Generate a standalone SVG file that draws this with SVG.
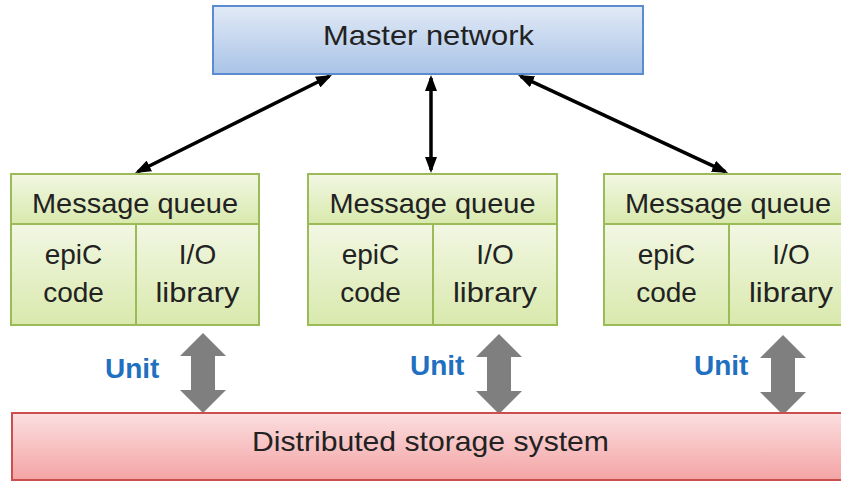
<svg xmlns="http://www.w3.org/2000/svg" width="841" height="481" viewBox="0 0 841 481">
  <defs>
    <linearGradient id="gBlue" x1="0" y1="0" x2="0" y2="1">
      <stop offset="0" stop-color="#e2eaf6"/>
      <stop offset="1" stop-color="#a9c3e7"/>
    </linearGradient>
    <linearGradient id="gGreen" x1="0" y1="0" x2="0" y2="1">
      <stop offset="0" stop-color="#f2f7e3"/>
      <stop offset="1" stop-color="#d9e9ad"/>
    </linearGradient>
    <linearGradient id="gRed" x1="0" y1="0" x2="0" y2="1">
      <stop offset="0" stop-color="#fbdfe0"/>
      <stop offset="1" stop-color="#f4a4a5"/>
    </linearGradient>
    <marker id="head" viewBox="0 0 16 12" markerWidth="16" markerHeight="12" refX="13" refY="6" orient="auto-start-reverse" markerUnits="userSpaceOnUse">
      <path d="M0,0 L16,6 L0,12 z" fill="#000"/>
    </marker>
    <!-- gray double-headed block arrow, 80 tall, centred on x=0 -->
    <path id="blockArrow" d="M0,0 L23,23 L12,23 L12,57 L23,57 L0,80 L-23,57 L-12,57 L-12,23 L-23,23 z"/>
  </defs>
  <style>
    .txt { font-family: "Liberation Sans", Arial, sans-serif; font-size: 28px; fill: #222; text-anchor: middle; }
    .unit { font-family: "Liberation Sans", Arial, sans-serif; font-size: 28px; font-weight: bold; fill: #1f70c1; text-anchor: start; }
    .blue { fill: url(#gBlue); stroke: #5b8bd0; stroke-width: 2; }
    .green { fill: url(#gGreen); stroke: #9bbb59; stroke-width: 2; }
    .red { fill: url(#gRed); stroke: #c9504d; stroke-width: 2; }
    .conn { stroke: #000; stroke-width: 3.5; fill: none; marker-start: url(#head); marker-end: url(#head); }
    .block { fill: #7f7f7f; }
  </style>

  <rect width="841" height="481" fill="#fff"/>

  <g id="master">
    <rect class="blue" x="213" y="6" width="430" height="68"/>
    <text class="txt" x="428.5" y="45" textLength="211" lengthAdjust="spacingAndGlyphs">Master network</text>
  </g>

  <g id="connectors">
    <line class="conn" x1="329.3" y1="76.3" x2="137.7" y2="171.7"/>
    <line class="conn" x1="431" y1="78" x2="431" y2="170"/>
    <line class="conn" x1="520.7" y1="76.3" x2="725.3" y2="171.7"/>
    <use href="#blockArrow" class="block" x="203" y="333"/>
    <use href="#blockArrow" class="block" x="499" y="334"/>
    <use href="#blockArrow" class="block" x="783" y="335"/>
  </g>

  <g id="unit-left">
    <rect class="green" x="11" y="174" width="248" height="50"/>
    <text class="txt" x="135" y="213" textLength="206" lengthAdjust="spacingAndGlyphs">Message queue</text>
    <rect class="green" x="11" y="224" width="125" height="101"/>
    <rect class="green" x="136" y="224" width="123" height="101"/>
    <text class="txt" x="73.5" y="264">epiC</text>
    <text class="txt" x="73.5" y="302">code</text>
    <text class="txt" x="197.5" y="264">I/O</text>
    <text class="txt" x="197.5" y="302" textLength="84" lengthAdjust="spacingAndGlyphs">library</text>
    <text class="unit" x="105" y="378">Unit</text>
  </g>

  <g id="unit-middle">
    <rect class="green" x="308" y="174" width="249" height="50"/>
    <text class="txt" x="432.5" y="213" textLength="206" lengthAdjust="spacingAndGlyphs">Message queue</text>
    <rect class="green" x="308" y="224" width="125" height="101"/>
    <rect class="green" x="433" y="224" width="124" height="101"/>
    <text class="txt" x="370.5" y="264">epiC</text>
    <text class="txt" x="370.5" y="302">code</text>
    <text class="txt" x="495" y="264">I/O</text>
    <text class="txt" x="495" y="302" textLength="84" lengthAdjust="spacingAndGlyphs">library</text>
    <text class="unit" x="410" y="375">Unit</text>
  </g>

  <g id="unit-right">
    <rect class="green" x="604" y="174" width="249" height="50"/>
    <text class="txt" x="728" y="213" textLength="206" lengthAdjust="spacingAndGlyphs">Message queue</text>
    <rect class="green" x="604" y="224" width="125" height="101"/>
    <rect class="green" x="729" y="224" width="124" height="101"/>
    <text class="txt" x="666.5" y="264">epiC</text>
    <text class="txt" x="666.5" y="302">code</text>
    <text class="txt" x="791" y="264">I/O</text>
    <text class="txt" x="791" y="302" textLength="84" lengthAdjust="spacingAndGlyphs">library</text>
    <text class="unit" x="694" y="375">Unit</text>
  </g>

  <g id="storage">
    <rect class="red" x="12" y="413" width="840" height="67"/>
    <text class="txt" x="430.5" y="451" textLength="357" lengthAdjust="spacingAndGlyphs">Distributed storage system</text>
  </g>
</svg>
